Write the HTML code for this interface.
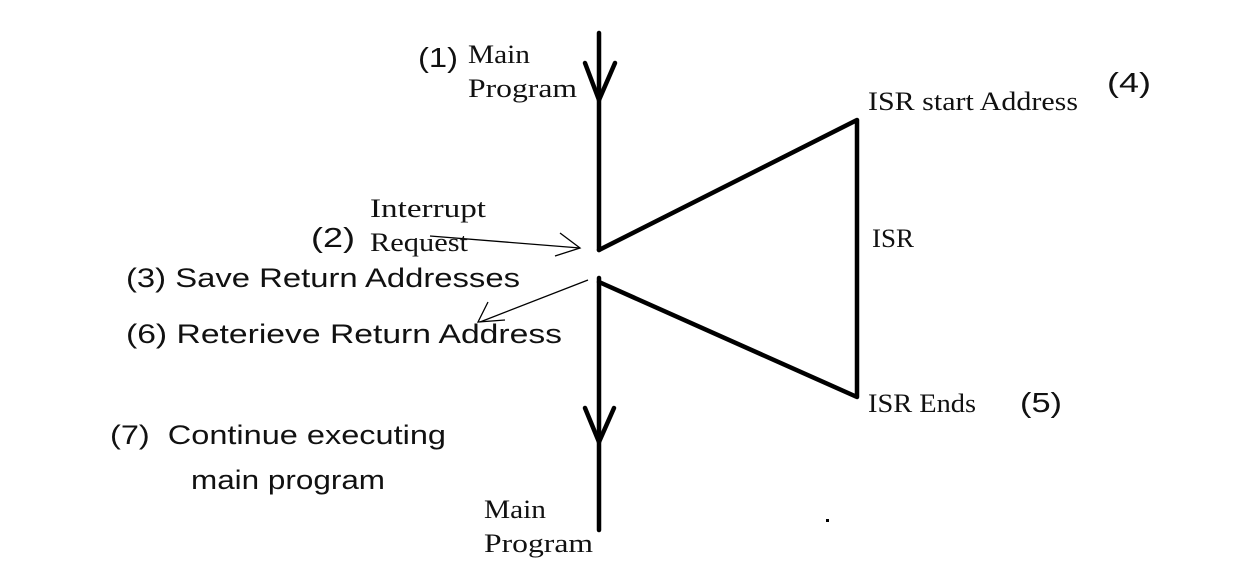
<!DOCTYPE html>
<html><head><style>
body{margin:0;background:#fff;}
svg{display:block;}
.s{font-family:"Liberation Serif",serif;font-size:26px;fill:#111;}
.c{font-family:"Liberation Sans",sans-serif;font-size:27px;fill:#111;}
.n{font-family:"Liberation Sans",sans-serif;font-size:28px;fill:#111;}
</style></head><body>
<svg width="1247" height="574" viewBox="0 0 1247 574" xmlns="http://www.w3.org/2000/svg">
<g stroke="#000" stroke-width="4.5" fill="none" stroke-linecap="round" stroke-linejoin="round">
<line x1="599" y1="33" x2="599" y2="250"/>
<line x1="599" y1="278" x2="599" y2="530"/>
<polyline points="585,63 599,100 615,63"/>
<polyline points="585,408 599,442 614,408"/>
<polyline points="599,250 857,120 857,397 599,282"/>
</g>
<g stroke="#000" stroke-width="1.3" fill="none">
<line x1="430" y1="236" x2="580" y2="248"/>
<polyline points="560,233 580,248 555,256"/>
<line x1="588" y1="280" x2="480" y2="322"/>
<polyline points="488,302 478,322 505,320"/>
</g>
<text class="n" x="418" y="67" textLength="40" lengthAdjust="spacingAndGlyphs">(1)</text>
<text class="s" x="468" y="63" textLength="62" lengthAdjust="spacingAndGlyphs">Main</text>
<text class="s" x="468" y="97" textLength="109" lengthAdjust="spacingAndGlyphs">Program</text>
<text class="s" x="868" y="110" textLength="210" lengthAdjust="spacingAndGlyphs">ISR start Address</text>
<text class="n" x="1107" y="92" textLength="44" lengthAdjust="spacingAndGlyphs">(4)</text>
<text class="s" x="370" y="217" textLength="116" lengthAdjust="spacingAndGlyphs">Interrupt</text>
<text class="s" x="370" y="251" textLength="98" lengthAdjust="spacingAndGlyphs">Request</text>
<text class="n" x="311" y="247" textLength="44" lengthAdjust="spacingAndGlyphs">(2)</text>
<text class="s" x="872" y="247" textLength="42" lengthAdjust="spacingAndGlyphs">ISR</text>
<text class="c" x="126" y="287" textLength="394" lengthAdjust="spacingAndGlyphs">(3) Save Return Addresses</text>
<text class="c" x="126" y="343" textLength="436" lengthAdjust="spacingAndGlyphs">(6) Reterieve Return Address</text>
<text class="s" x="868" y="412" textLength="108" lengthAdjust="spacingAndGlyphs">ISR Ends</text>
<text class="n" x="1020" y="412" textLength="42" lengthAdjust="spacingAndGlyphs">(5)</text>
<text class="c" x="110" y="444" textLength="336" lengthAdjust="spacingAndGlyphs">(7)&#160; Continue executing</text>
<text class="c" x="191" y="489" textLength="194" lengthAdjust="spacingAndGlyphs">main program</text>
<text class="s" x="484" y="518" textLength="62" lengthAdjust="spacingAndGlyphs">Main</text>
<text class="s" x="484" y="552" textLength="109" lengthAdjust="spacingAndGlyphs">Program</text>
<rect x="826" y="519" width="3" height="3" fill="#000"/>
</svg>
</body></html>
